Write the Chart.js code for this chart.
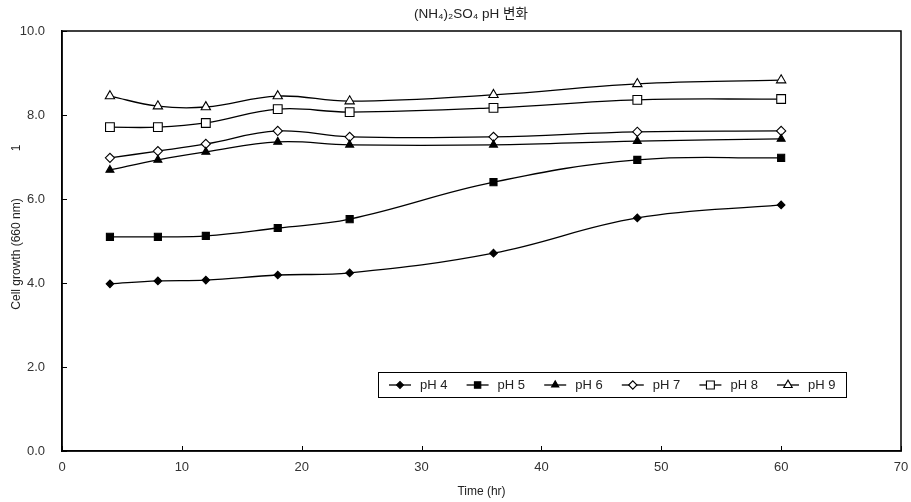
<!DOCTYPE html>
<html>
<head>
<meta charset="utf-8">
<script src="https://cdn.jsdelivr.net/npm/chart.js@4.4.1/dist/chart.umd.min.js"></script>
<style>
  html, body { margin: 0; padding: 0; background: #fff; }
  #wrap { width: 911px; height: 502px; position: relative; }
</style>
</head>
<body>
<div id="wrap"><canvas id="c" width="911" height="502"></canvas></div>
<script>
// Sampling times (hr)
const times = [4, 8, 12, 18, 24, 36, 48, 60];

// Cell growth (660 nm) per initial pH
const ph4 = [3.98, 4.05, 4.07, 4.19, 4.24, 4.71, 5.55, 5.86];
const ph5 = [5.10, 5.10, 5.12, 5.31, 5.52, 6.40, 6.93, 6.98];
const ph6 = [6.69, 6.93, 7.12, 7.36, 7.29, 7.29, 7.38, 7.43];
const ph7 = [6.98, 7.14, 7.31, 7.62, 7.48, 7.48, 7.60, 7.62];
const ph8 = [7.71, 7.71, 7.81, 8.14, 8.07, 8.17, 8.36, 8.38];
const ph9 = [8.45, 8.21, 8.19, 8.45, 8.33, 8.48, 8.74, 8.83];

const seriesNames = ['pH 4', 'pH 5', 'pH 6', 'pH 7', 'pH 8', 'pH 9'];
const xTicks = [0, 10, 20, 30, 40, 50, 60, 70];
const yTicks = [0, 2, 4, 6, 8, 10];

const chartTitle = '(NH\u2084)\u2082SO\u2084 pH 변화';
const xTitle = 'Time (hr)';
const yTitle = 'Cell growth (660 nm)';
const yTitleExtra = '1';

const FONT = '"Liberation Sans", Arial, "Noto Sans CJK KR", sans-serif';

const markerStyles = [
  { pointStyle: 'rectRot',  radius: 3.8, fill: '#000' },
  { pointStyle: 'rect',     radius: 5.0, fill: '#000' },
  { pointStyle: 'triangle', radius: 4.6, fill: '#000' },
  { pointStyle: 'rectRot',  radius: 4.6, fill: '#fff' },
  { pointStyle: 'rect',     radius: 6.2, fill: '#fff' },
  { pointStyle: 'triangle', radius: 5.4, fill: '#fff' }
];

const allSeries = [ph4, ph5, ph6, ph7, ph8, ph9];

const datasets = allSeries.map((vals, i) => ({
  label: seriesNames[i],
  data: times.map((t, k) => ({ x: t, y: vals[k] })),
  borderColor: '#000',
  borderWidth: 1.3,
  tension: 0.4,
  pointStyle: markerStyles[i].pointStyle,
  pointRadius: markerStyles[i].radius,
  pointBackgroundColor: markerStyles[i].fill,
  pointBorderColor: '#000',
  pointBorderWidth: 1.1,
  fill: false,
  clip: false
}));

// Frame, inward tick marks, titles and the boxed legend inside the plot
const decorations = {
  id: 'decorations',
  afterDraw(chart) {
    const ctx = chart.ctx;
    const a = chart.chartArea;
    const xs = chart.scales.x, ys = chart.scales.y;
    ctx.save();

    // plot frame
    ctx.strokeStyle = '#000';
    ctx.lineWidth = 1.5;
    ctx.strokeRect(a.left, a.top, a.right - a.left, a.bottom - a.top);

    // inward tick marks
    ctx.lineWidth = 1;
    ctx.beginPath();
    xTicks.forEach(v => {
      const px = Math.round(xs.getPixelForValue(v)) + 0.5;
      ctx.moveTo(px, a.bottom);
      ctx.lineTo(px, a.bottom - 5);
    });
    yTicks.forEach(v => {
      const py = Math.round(ys.getPixelForValue(v)) + 0.5;
      ctx.moveTo(a.left, py);
      ctx.lineTo(a.left + 5, py);
    });
    ctx.stroke();

    // chart title
    ctx.fillStyle = '#222';
    ctx.font = '13.5px ' + FONT;
    ctx.textAlign = 'center';
    ctx.textBaseline = 'middle';
    ctx.fillText(chartTitle, 471, 14);

    // x axis title
    ctx.font = '12px ' + FONT;
    ctx.fillText(xTitle, (a.left + a.right) / 2, 492);

    // y axis title (rotated)
    ctx.save();
    ctx.translate(17, 254);
    ctx.rotate(-Math.PI / 2);
    ctx.fillText(yTitle, 0, 0);
    ctx.restore();
    ctx.save();
    ctx.translate(17, 148);
    ctx.rotate(-Math.PI / 2);
    ctx.fillText(yTitleExtra, 0, 0);
    ctx.restore();

    // legend box
    const lx = 378, ly = 372, lw = 468, lh = 25;
    ctx.fillStyle = '#fff';
    ctx.fillRect(lx, ly, lw, lh);
    ctx.strokeStyle = '#000';
    ctx.lineWidth = 1;
    ctx.strokeRect(lx + 0.5, ly + 0.5, lw, lh);

    const cy = ly + lh / 2 + 0.5;
    const step = 77.6;
    chart.data.datasets.forEach((ds, i) => {
      const x0 = 389 + i * step;
      ctx.strokeStyle = '#000';
      ctx.lineWidth = 1.3;
      ctx.beginPath();
      ctx.moveTo(x0, cy);
      ctx.lineTo(x0 + 22, cy);
      ctx.stroke();
      ctx.fillStyle = ds.pointBackgroundColor;
      ctx.strokeStyle = '#000';
      ctx.lineWidth = ds.pointBorderWidth;
      Chart.helpers.drawPoint(ctx, {
        pointStyle: ds.pointStyle,
        radius: ds.pointRadius * 0.9,
        rotation: 0,
        borderWidth: ds.pointBorderWidth
      }, x0 + 11, cy);
      ctx.fillStyle = '#222';
      ctx.font = '13px ' + FONT;
      ctx.textAlign = 'left';
      ctx.textBaseline = 'middle';
      ctx.fillText(ds.label, x0 + 31, cy);
    });

    ctx.restore();
  }
};

new Chart(document.getElementById('c'), {
  type: 'line',
  data: { datasets },
  options: {
    responsive: false,
    animation: false,
    devicePixelRatio: 1,
    layout: { padding: { top: 31, right: 10, left: 0, bottom: 0 } },
    plugins: {
      legend: { display: false },
      title: { display: false },
      tooltip: { enabled: false }
    },
    scales: {
      x: {
        type: 'linear',
        min: 0, max: 70,
        afterBuildTicks(s) { s.ticks = xTicks.map(v => ({ value: v })); },
        afterFit(s) { s.height = 51; s.paddingLeft = 0; s.paddingRight = 0; },
        grid: { display: false, drawTicks: false },
        border: { display: true, color: '#000', width: 1.5 },
        ticks: {
          padding: 9,
          color: '#333',
          font: { family: FONT, size: 13 },
          maxRotation: 0,
          callback: v => String(v)
        }
      },
      y: {
        min: 0, max: 10,
        afterBuildTicks(s) { s.ticks = yTicks.map(v => ({ value: v })); },
        afterFit(s) { s.width = 62; s.paddingTop = 0; s.paddingBottom = 0; },
        grid: { display: false, drawTicks: false },
        border: { display: true, color: '#000', width: 1.5 },
        ticks: {
          padding: 17,
          color: '#333',
          font: { family: FONT, size: 13 },
          callback: v => v.toFixed(1)
        }
      }
    }
  },
  plugins: [decorations]
});
</script>
</body>
</html>
